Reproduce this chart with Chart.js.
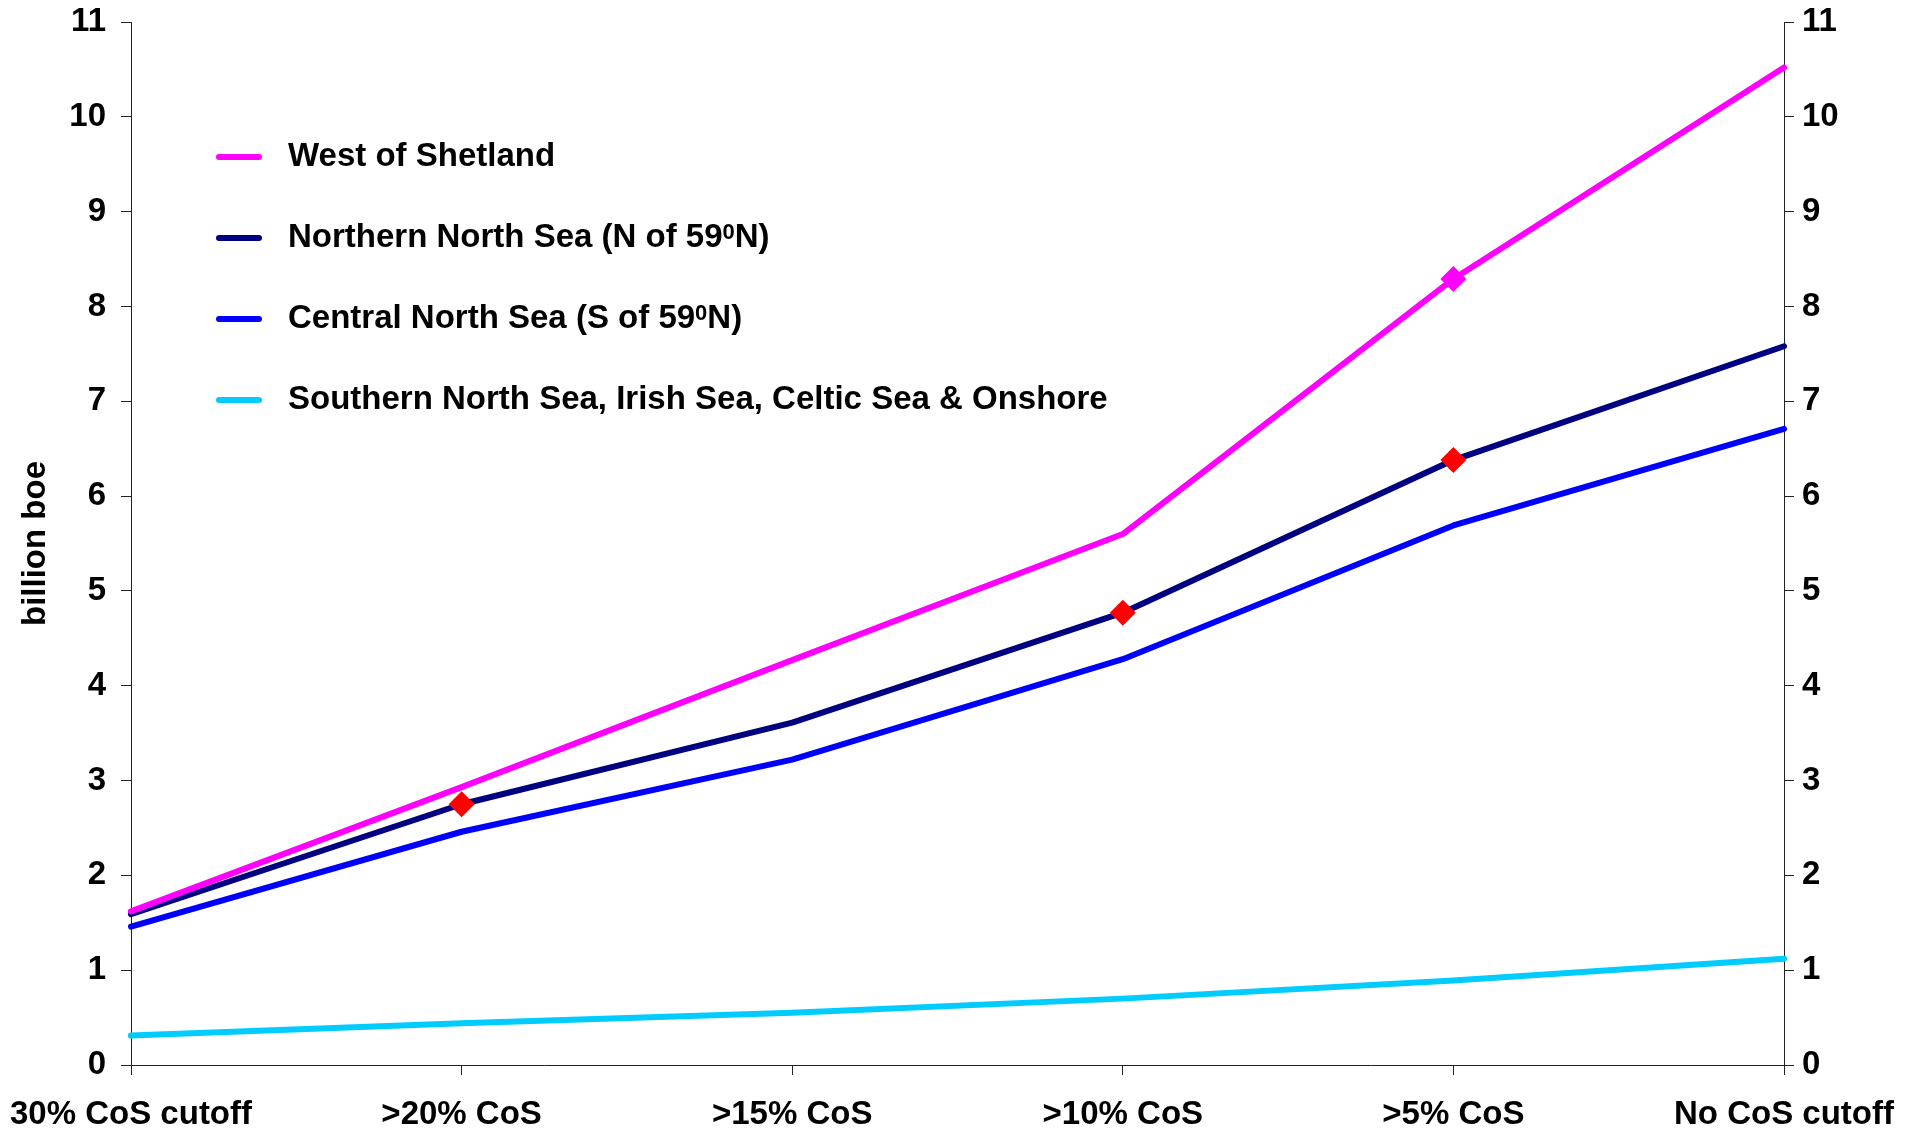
<!DOCTYPE html>
<html>
<head>
<meta charset="utf-8">
<script src="https://cdn.jsdelivr.net/npm/chart.js@4.4.1/dist/chart.umd.min.js"></script>
<style>
  html, body { margin: 0; padding: 0; background: #fff; overflow: hidden; }
  #wrap { width: 1917px; height: 1132px; position: relative; }
</style>
</head>
<body>
<div id="wrap"><canvas id="mychart"></canvas></div>
<script>
// カテゴリ
const labels = ['30% CoS cutoff', '>20% CoS', '>15% CoS', '>10% CoS', '>5% CoS', 'No CoS cutoff'];

// 系列名
const seriesNames = [
    'West of Shetland',
    'Northern North Sea (N of 59\u2070N)',
    'Central North Sea (S of 59\u2070N)',
    'Southern North Sea, Irish Sea, Celtic Sea & Onshore'
];

// 値 (billion boe)
const westShetland = [1.62, 2.93, 4.27, 5.60, 8.29, 10.52];
const northernNS   = [1.59, 2.75, 3.61, 4.77, 6.38, 7.58];
const centralNS    = [1.46, 2.46, 3.22, 4.28, 5.69, 6.71];
const southernNS   = [0.31, 0.44, 0.55, 0.70, 0.89, 1.12];

// 軸
const yMin = 0;
const yMax = 11;
const yStep = 1;

const FONT = "'Liberation Sans', Arial, sans-serif";
const tickFont = { family: FONT, size: 33, weight: 'bold' };

// 凡例を自前で描く（グラフの中、左上）
const sideLegend = {
    id: 'sideLegend',
    afterDraw(chart) {
        const ctx = chart.ctx;
        ctx.save();
        chart.data.datasets.forEach((ds, i) => {
            const y = 157 + i * 81;
            ctx.strokeStyle = ds.borderColor;
            ctx.lineWidth = 6;
            ctx.lineCap = 'round';
            ctx.beginPath();
            ctx.moveTo(219, y);
            ctx.lineTo(259, y);
            ctx.stroke();

            // ⁰ は小さい0を上付きで描く
            const parts = ds.label.split('\u2070');
            let x = 288;
            ctx.fillStyle = '#000';
            ctx.textAlign = 'left';
            parts.forEach((p, k) => {
                ctx.font = 'bold 33px ' + FONT;
                ctx.textBaseline = 'middle';
                ctx.fillText(p, x, y);
                x += ctx.measureText(p).width;
                if (k < parts.length - 1) {
                    ctx.font = 'bold 22px ' + FONT;
                    ctx.textBaseline = 'alphabetic';
                    ctx.fillText('0', x, y + 1);
                    x += ctx.measureText('0').width;
                }
            });
        });
        ctx.restore();
    }
};

const ctx = document.getElementById('mychart');

const lineChart = new Chart(ctx, {
    type: 'line',
    data: {
        labels: labels,
        datasets: [{
            label: seriesNames[0],
            data: westShetland,
            borderColor: '#FF00FF',
            backgroundColor: '#FF00FF',
            pointRadius: [0, 0, 0, 0, 13, 0],
            pointStyle: 'rectRot',
            pointBackgroundColor: '#FF00FF',
            pointBorderWidth: 0
        }, {
            label: seriesNames[1],
            data: northernNS,
            borderColor: '#000080',
            backgroundColor: '#000080',
            pointRadius: [0, 13, 0, 13, 13, 0],
            pointStyle: 'rectRot',
            pointBackgroundColor: '#FF0000',
            pointBorderWidth: 0
        }, {
            label: seriesNames[2],
            data: centralNS,
            borderColor: '#0000FF',
            backgroundColor: '#0000FF',
            pointRadius: 0
        }, {
            label: seriesNames[3],
            data: southernNS,
            borderColor: '#00CCFF',
            backgroundColor: '#00CCFF',
            pointRadius: 0
        }]
    },
    options: {
        responsive: true,
        maintainAspectRatio: false,
        animation: false,
        datasets: {
            line: {
                borderWidth: 6,
                tension: 0,
                borderCapStyle: 'round',
                borderJoinStyle: 'round',
                pointHoverRadius: 0
            }
        },
        layout: { padding: { top: 22, left: 0, right: 0, bottom: 0 } },
        plugins: {
            legend: { display: false },
            tooltip: { enabled: false }
        },
        scales: {
            x: {
                offset: false,
                grid: { drawOnChartArea: false, drawTicks: true, tickLength: 10, tickColor: '#222', tickWidth: 1 },
                border: { display: true, color: '#222', width: 1 },
                ticks: { font: tickFont, color: '#000', padding: 20, maxRotation: 0, autoSkip: false },
                afterFit: s => { s.height = 67; s.paddingLeft = 0; s.paddingRight = 0; }
            },
            y: {
                type: 'linear',
                position: 'left',
                min: yMin,
                max: yMax,
                grid: { drawOnChartArea: false, drawTicks: true, tickLength: 10, tickColor: '#222', tickWidth: 1 },
                border: { display: true, color: '#222', width: 1 },
                ticks: { stepSize: yStep, font: tickFont, color: '#000', padding: 15 },
                title: {
                    display: true,
                    text: 'billion boe',
                    color: '#000',
                    font: { family: FONT, size: 33, weight: 'bold', lineHeight: 1.2 },
                    padding: { top: 16, bottom: 0 }
                },
                afterFit: s => { s.width = 131; s.paddingTop = 0; s.paddingBottom = 0; }
            },
            y2: {
                type: 'linear',
                position: 'right',
                min: yMin,
                max: yMax,
                grid: { drawOnChartArea: false, drawTicks: true, tickLength: 10, tickColor: '#222', tickWidth: 1 },
                border: { display: true, color: '#222', width: 1 },
                ticks: { stepSize: yStep, font: tickFont, color: '#000', padding: 8 },
                afterFit: s => { s.width = 133; s.paddingTop = 0; s.paddingBottom = 0; }
            }
        }
    },
    plugins: [sideLegend]
});
</script>
</body>
</html>
